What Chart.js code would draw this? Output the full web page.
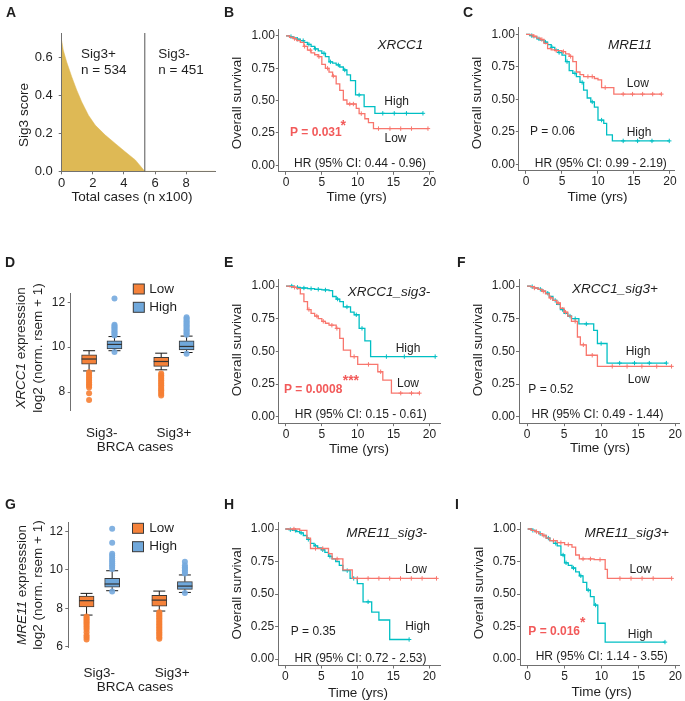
<!DOCTYPE html>
<html>
<head>
<meta charset="utf-8">
<script src="https://cdn.jsdelivr.net/npm/chart.js@4.4.1/dist/chart.umd.min.js"></script>
<style>
  body { margin: 0; background: #fff; width: 685px; height: 701px; position: relative; overflow: hidden; }
  canvas { position: absolute; }
</style>
</head>
<body>
<script>
// ---------- data ----------

// Panel A: Sig3 score of every case, sorted (x in hundreds of cases)
const sig3Groups = ["Sig3+", "Sig3-"];
const sig3Counts = [534, 451];
const sig3Cases = [0, 0.1, 0.32, 0.65, 0.97, 1.29, 1.72, 2.15, 2.8, 3.44, 4.08, 4.73, 5.34, 9.85];
const sig3Score = [0.69, 0.64, 0.577, 0.498, 0.428, 0.366, 0.296, 0.244, 0.191, 0.147, 0.103, 0.06, 0, 0];

// Kaplan-Meier axes
const timeTicks = [0, 5, 10, 15, 20];
const survTicks = [0, 0.25, 0.5, 0.75, 1];

// B: XRCC1, all cases
const xrcc1LowT = [0, 0.5, 1, 1.5, 2, 2.5, 3, 3.5, 4, 4.5, 5, 5.5, 6, 6.5, 7, 7.5, 8, 8.5, 9.8, 10.2, 11, 11.5, 12.2, 19.8];
const xrcc1LowS = [1, 0.99, 0.98, 0.965, 0.95, 0.92, 0.89, 0.87, 0.855, 0.84, 0.78, 0.75, 0.72, 0.69, 0.63, 0.58, 0.505, 0.474, 0.44, 0.40, 0.36, 0.33, 0.284, 0.284];
const xrcc1LowCens = [1.2, 2.6, 3.4, 4.6, 5.8, 6.6, 8.9, 9.4, 10.5, 12.9, 14.5, 16, 17.5, 19.8];
const xrcc1HighT = [0, 0.5, 1, 1.5, 2, 2.5, 3, 3.5, 4, 4.5, 5, 5.5, 6, 6.5, 7, 7.5, 8, 8.5, 9, 9.7, 10.9, 12.4, 19.1];
const xrcc1HighS = [1, 0.995, 0.985, 0.975, 0.964, 0.95, 0.935, 0.92, 0.9, 0.885, 0.866, 0.84, 0.8, 0.79, 0.776, 0.76, 0.737, 0.7, 0.655, 0.544, 0.454, 0.402, 0.402];
const xrcc1HighCens = [0.7, 1.6, 2.4, 3.2, 4.1, 5.3, 6.2, 7.3, 8.2, 10.2, 13.5, 15.1, 16.8, 19.1];

// C: MRE11, all cases
const mre11LowT = [0, 0.5, 1, 1.5, 2, 2.5, 3, 3.5, 4, 5, 5.5, 6, 6.5, 7, 7.5, 8, 9.5, 10, 10.5, 12.2, 18.8];
const mre11LowS = [1, 0.995, 0.985, 0.97, 0.96, 0.93, 0.89, 0.88, 0.875, 0.867, 0.85, 0.83, 0.79, 0.71, 0.69, 0.675, 0.66, 0.65, 0.59, 0.54, 0.54];
const mre11LowCens = [1.1, 2.2, 4.2, 5.2, 6.2, 8.6, 9.2, 11, 13.5, 14.8, 16.2, 17.6, 18.8];
const mre11HighT = [0, 0.5, 1, 1.5, 2, 2.5, 3, 3.5, 4, 4.5, 5, 5.5, 6, 6.5, 7, 7.5, 8, 8.5, 9, 9.5, 10, 10.8, 11.2, 12, 19.9];
const mre11HighS = [1, 0.99, 0.98, 0.965, 0.955, 0.94, 0.92, 0.9, 0.88, 0.86, 0.84, 0.79, 0.72, 0.7, 0.675, 0.63, 0.57, 0.51, 0.48, 0.44, 0.34, 0.315, 0.226, 0.18, 0.18];
const mre11HighCens = [0.8, 1.8, 2.7, 3.6, 4.6, 5.7, 6.8, 7.8, 9.2, 10.5, 13.5, 15.5, 17.5, 19.9];

// E: XRCC1, Sig3- cases
const xrcc1NegLowT = [0, 0.5, 1, 1.5, 2, 2.5, 3, 3.5, 4, 4.5, 5, 5.5, 6, 7, 7.5, 8, 9, 10, 12.8, 13.5, 14.7, 18.6];
const xrcc1NegLowS = [1, 0.995, 0.99, 0.98, 0.94, 0.88, 0.82, 0.79, 0.77, 0.75, 0.73, 0.715, 0.7, 0.676, 0.6, 0.51, 0.46, 0.4, 0.344, 0.28, 0.18, 0.18];
const xrcc1NegLowCens = [1.2, 3.2, 4.3, 5.2, 6.4, 7.1, 9.5, 11.5, 13.2, 16, 17.5, 18.6];
const xrcc1NegHighT = [0, 1, 2, 3, 4, 5, 6, 6.5, 7, 7.5, 8, 9, 9.5, 10.2, 11, 11.8, 20.8];
const xrcc1NegHighS = [1, 0.99, 0.985, 0.98, 0.975, 0.97, 0.965, 0.92, 0.9, 0.88, 0.84, 0.8, 0.78, 0.676, 0.58, 0.46, 0.46];
const xrcc1NegHighCens = [0.8, 1.6, 2.5, 3.5, 4.5, 5.5, 7.2, 8.5, 9.8, 10.6, 14, 16.5, 20.8];

// F: XRCC1, Sig3+ cases
const xrcc1PosLowT = [0, 0.5, 1, 1.5, 2, 2.5, 3, 3.5, 4, 4.5, 5, 5.5, 6, 6.8, 7.2, 8, 9.5, 19.5];
const xrcc1PosLowS = [1, 0.995, 0.985, 0.975, 0.96, 0.94, 0.91, 0.89, 0.87, 0.83, 0.8, 0.77, 0.73, 0.61, 0.55, 0.47, 0.385, 0.385];
const xrcc1PosLowCens = [1, 2.2, 3.2, 4.2, 5.2, 6.5, 7.6, 8.8, 11.5, 13.5, 15.5, 17.5, 19.5];
const xrcc1PosHighT = [0, 0.5, 1, 1.5, 2, 2.5, 3, 3.5, 4, 4.5, 5, 5.5, 6, 7, 9, 9.5, 10.8, 18.8];
const xrcc1PosHighS = [1, 0.995, 0.985, 0.975, 0.96, 0.945, 0.92, 0.89, 0.86, 0.82, 0.79, 0.77, 0.75, 0.71, 0.66, 0.56, 0.41, 0.41];
const xrcc1PosHighCens = [0.7, 1.8, 2.8, 3.8, 4.8, 5.8, 6.5, 8, 10, 12.5, 14.5, 16.5, 18.8];

// H: MRE11, Sig3- cases
const mre11NegLowT = [0, 2, 3, 3.5, 6, 6.5, 8, 9.3, 21];
const mre11NegLowS = [1, 0.99, 0.93, 0.85, 0.81, 0.77, 0.685, 0.62, 0.62];
const mre11NegLowCens = [1.2, 4.2, 5.2, 7.2, 10, 11.5, 13, 14.5, 16, 17.5, 19, 21];
const mre11NegHighT = [0, 0.5, 1, 1.5, 2, 2.5, 3, 3.5, 4, 4.5, 5, 5.5, 6, 6.5, 7, 7.5, 8, 9, 10, 10.8, 12, 13, 14.5, 17.2];
const mre11NegHighS = [1, 0.995, 0.99, 0.98, 0.97, 0.95, 0.92, 0.89, 0.87, 0.855, 0.84, 0.82, 0.79, 0.77, 0.75, 0.72, 0.68, 0.62, 0.58, 0.44, 0.36, 0.3, 0.15, 0.15];
const mre11NegHighCens = [0.7, 1.4, 2.2, 3.2, 4.2, 5.2, 6.2, 8.6, 9.5, 11.5, 17.2];

// I: MRE11, Sig3+ cases
const mre11PosLowT = [0, 0.5, 1, 1.5, 2, 2.5, 3, 4, 5, 6, 6.5, 7, 9, 10.5, 10.8, 19.5];
const mre11PosLowS = [1, 0.99, 0.98, 0.965, 0.95, 0.93, 0.91, 0.895, 0.88, 0.86, 0.8, 0.77, 0.765, 0.69, 0.62, 0.62];
const mre11PosLowCens = [1.2, 2.2, 3.5, 4.5, 5.5, 7.5, 8.5, 9.8, 12.5, 14, 15.5, 17, 19.5];
const mre11PosHighT = [0, 0.5, 1, 1.5, 2, 2.5, 3, 3.5, 4, 4.5, 5, 5.5, 6, 6.5, 7, 7.5, 8, 8.5, 9, 9.5, 10.5, 18.6];
const mre11PosHighS = [1, 0.99, 0.98, 0.965, 0.95, 0.93, 0.91, 0.89, 0.87, 0.8, 0.74, 0.72, 0.7, 0.67, 0.64, 0.59, 0.53, 0.48, 0.415, 0.275, 0.13, 0.13];
const mre11PosHighCens = [0.7, 1.7, 2.8, 3.8, 4.8, 5.2, 6.2, 7.2, 8.2, 9.2, 18.6];

// D and G: expression box plots, per category [lower whisker, q1, median, q3, upper whisker]
const boxCats = ["Sig3-", "Sig3+"];
const exprGroups = ["Low", "High"];
const xrcc1BoxLow = [[8.94, 9.24, 9.47, 9.66, 9.84], [8.99, 9.14, 9.36, 9.54, 9.73]];
const xrcc1BoxHigh = [[9.84, 9.92, 10.12, 10.28, 10.47], [9.76, 9.88, 10.03, 10.28, 10.49]];
const xrcc1OutLow = [[8.88, 8.8, 8.72, 8.65, 8.58, 8.5, 8.42, 8.35, 8.28, 8.2, 7.95, 7.65],
                     [8.82, 8.75, 8.68, 8.6, 8.52, 8.45, 8.38, 8.3, 8.22, 8.15, 8.08, 8.0, 7.92, 7.85]];
const xrcc1OutHigh = [[9.78, 10.52, 10.58, 10.64, 10.7, 10.76, 10.82, 10.88, 10.94, 11.0, 12.17],
                      [9.7, 10.55, 10.61, 10.67, 10.73, 10.79, 10.85, 10.91, 10.97, 11.03, 11.09, 11.15, 11.21, 11.27, 11.33]];
const mre11BoxLow = [[7.65, 8.07, 8.4, 8.64, 8.78], [7.86, 8.12, 8.43, 8.68, 8.9]];
const mre11BoxHigh = [[8.92, 9.1, 9.27, 9.56, 9.96], [8.83, 8.99, 9.16, 9.39, 9.74]];
const mre11OutLow = [[7.58, 7.5, 7.42, 7.34, 7.26, 7.18, 7.1, 7.0, 6.9, 6.75, 6.6, 6.5, 6.38],
                     [7.8, 7.72, 7.64, 7.56, 7.48, 7.4, 7.32, 7.24, 7.16, 7.08, 7.0, 6.92, 6.84, 6.76, 6.68, 6.6, 6.5, 6.42]];
const mre11OutHigh = [[8.88, 10.05, 10.15, 10.25, 10.35, 10.45, 10.55, 10.65, 10.75, 10.85, 11.42, 12.15],
                      [8.8, 9.82, 9.9, 9.98, 10.06, 10.14, 10.24, 10.43]];

// ---------- styling ----------
const FONT = "'Liberation Sans', Arial, Helvetica, sans-serif";
const INK = "#1f1f1f";
const AXIS = "#707070";
const COL_LOW = "#F8766D";
const COL_HIGH = "#00BFC4";
const P_RED = "#F25A5A";
const GOLD = "#DEB955";
const BOX_LOW = "#F5823A";
const BOX_HIGH = "#70A8DB";
const DOT_LOW = "rgba(246,128,52,0.9)";
const DOT_HIGH = "rgba(118,170,222,0.9)";
const DODGE = 0.176;

const F = (size, style) => (style ? style + " " : "") + size + "px " + FONT;
const ROT = -Math.PI / 2;

Chart.defaults.font.family = FONT;
Chart.defaults.color = INK;
Chart.defaults.animation = false;
Chart.defaults.responsive = false;
Chart.defaults.events = [];
Chart.defaults.plugins.legend.display = false;
Chart.defaults.plugins.tooltip.enabled = false;

function makeCanvas(box) {
  const c = document.createElement("canvas");
  c.width = box[2];
  c.height = box[3];
  c.style.left = box[0] + "px";
  c.style.top = box[1] + "px";
  c.style.width = box[2] + "px";
  c.style.height = box[3] + "px";
  document.body.appendChild(c);
  return c;
}

// box = canvas [left, top, w, h], area = plot [left, top, right, bottom], page pixels
function frameOpts(box, area) {
  return {
    padding: { left: 0, top: area[1] - box[1], right: box[0] + box[2] - area[2], bottom: 0 },
    yW: area[0] - box[0],
    xH: box[1] + box[3] - area[3]
  };
}

function linAxis(range, ticks, fmt, fit, o) {
  o = o || {};
  return {
    type: "linear", min: range[0], max: range[1], offset: false,
    afterBuildTicks: s => { s.ticks = ticks.map(v => ({ value: v })); },
    afterFit: fit,
    grid: { display: !o.noTicks, drawOnChartArea: false, drawTicks: true, tickLength: 3, color: AXIS, tickColor: AXIS },
    border: { display: !o.noBorder, color: AXIS, width: 1 },
    ticks: { font: { size: o.size || 12 }, color: INK, padding: o.pad == null ? 1 : o.pad,
             callback: fmt, autoSkip: false, maxRotation: 0, minRotation: 0 }
  };
}

// free text (and legend keys) placed in page coordinates
function textPlugin(box, notes) {
  return {
    id: "notes",
    afterDraw(chart) {
      const ctx = chart.ctx;
      notes.forEach(n => {
        ctx.save();
        ctx.translate(n.x - box[0], n.y - box[1]);
        if (n.key) {
          ctx.fillStyle = n.key;
          ctx.strokeStyle = "#3a3a3a";
          ctx.lineWidth = 1;
          ctx.fillRect(-5.5, -5, 11, 10);
          ctx.strokeRect(-5.5, -5, 11, 10);
          ctx.restore();
          return;
        }
        if (n.rot) ctx.rotate(n.rot);
        ctx.textBaseline = "middle";
        ctx.textAlign = "left";
        ctx.fillStyle = n.color || INK;
        const parts = n.parts || [{ t: n.t, f: n.f }];
        let w = 0;
        parts.forEach(p => { ctx.font = p.f; p.w = ctx.measureText(p.t).width; w += p.w; });
        let x0 = n.a === "left" ? 0 : -w / 2;
        parts.forEach(p => { ctx.font = p.f; ctx.fillText(p.t, x0, 0); x0 += p.w; });
        ctx.restore();
      });
    }
  };
}

function survAt(t, s, time) {
  let v = s[0];
  for (let i = 0; i < t.length; i++) if (t[i] <= time) v = s[i];
  return v;
}

function kmPanel(box, area, xRange, low, high, notes) {
  const fr = frameOpts(box, area);
  const datasets = [];
  [[low, COL_LOW], [high, COL_HIGH]].forEach(([c, col]) => {
    datasets.push({
      type: "line", data: c.t.map((t, i) => ({ x: t, y: c.s[i] })),
      borderColor: col, borderWidth: 1.3, stepped: true, pointRadius: 0, fill: false
    });
    datasets.push({
      type: "scatter", data: c.cens.map(t => ({ x: t, y: survAt(c.t, c.s, t) })),
      pointStyle: "cross", pointRadius: 2.2, borderColor: col, borderWidth: 1
    });
  });
  new Chart(makeCanvas(box), {
    type: "line",
    data: { datasets },
    options: {
      layout: { padding: fr.padding },
      scales: {
        x: linAxis(xRange, timeTicks, v => String(v), s => { s.height = fr.xH; }),
        y: linAxis([-0.05, 1.05], survTicks, v => v.toFixed(2), s => { s.width = fr.yW; })
      }
    },
    plugins: [textPlugin(box, notes)]
  });
}

function boxPanel(box, area, xRange, yRange, yTicks, lowStats, highStats, lowOut, highOut, catPad, notes) {
  const fr = frameOpts(box, area);
  const groups = [
    { stats: lowStats, out: lowOut, shift: -DODGE, fill: BOX_LOW, dot: DOT_LOW },
    { stats: highStats, out: highOut, shift: DODGE, fill: BOX_HIGH, dot: DOT_HIGH }
  ];
  const datasets = [];
  groups.forEach(g => {
    datasets.push({
      type: "scatter", order: 2,
      data: g.out.flatMap((vals, i) => vals.map(v => ({ x: i + 1 + g.shift, y: v }))),
      pointRadius: 3, pointBackgroundColor: g.dot, pointBorderWidth: 0
    });
    datasets.push({
      type: "bar", order: 1, grouped: false, barThickness: 15,
      data: g.stats.map((st, i) => ({ x: i + 1 + g.shift, y: [st[1], st[3]] })),
      backgroundColor: g.fill, borderColor: "#3a3a3a", borderWidth: 1, borderSkipped: false
    });
  });
  const boxParts = {
    id: "boxParts",
    beforeDatasetsDraw(chart) {
      const { ctx, scales: { x, y } } = chart;
      ctx.save();
      ctx.strokeStyle = "#1a1a1a";
      ctx.lineWidth = 1;
      groups.forEach(g => g.stats.forEach((st, i) => {
        const px = x.getPixelForValue(i + 1 + g.shift);
        ctx.beginPath();
        ctx.moveTo(px, y.getPixelForValue(st[0])); ctx.lineTo(px, y.getPixelForValue(st[1]));
        ctx.moveTo(px, y.getPixelForValue(st[3])); ctx.lineTo(px, y.getPixelForValue(st[4]));
        [st[0], st[4]].forEach(v => {
          const py = y.getPixelForValue(v);
          ctx.moveTo(px - 6, py); ctx.lineTo(px + 6, py);
        });
        ctx.stroke();
      }));
      ctx.restore();
    },
    afterDatasetsDraw(chart) {
      const { ctx, scales: { x, y } } = chart;
      ctx.save();
      ctx.strokeStyle = "#333";
      ctx.lineWidth = 1.2;
      groups.forEach(g => g.stats.forEach((st, i) => {
        const px = x.getPixelForValue(i + 1 + g.shift);
        const py = y.getPixelForValue(st[2]);
        ctx.beginPath();
        ctx.moveTo(px - 7.5, py); ctx.lineTo(px + 7.5, py);
        ctx.stroke();
      }));
      ctx.restore();
    }
  };
  new Chart(makeCanvas(box), {
    type: "bar",
    data: { datasets },
    options: {
      layout: { padding: fr.padding },
      scales: {
        x: linAxis(xRange, [1, 2], v => boxCats[v - 1], s => { s.height = fr.xH; },
                   { noTicks: true, noBorder: true, size: 13.5, pad: catPad }),
        y: linAxis(yRange, yTicks, v => String(v), s => { s.width = fr.yW; }, { pad: 2.5 })
      }
    },
    plugins: [boxParts, textPlugin(box, notes)]
  });
}

const LETTER = F(14, "bold");
const TITLE = F(13.5);
const GENE = F(13.5, "italic");
const LAB = F(12);
const PB = F(12, "bold");

// ---------- A ----------
(function () {
  const box = [0, 0, 220, 212];
  const area = [61.7, 33, 215, 171.3];
  const fr = frameOpts(box, area);
  const total = (sig3Counts[0] + sig3Counts[1]) / 100;
  const divider = sig3Counts[0] / 100;
  const notes = [
    { t: "A", x: 6, y: 13, f: LETTER, a: "left" },
    { t: sig3Groups[0], x: 81, y: 54.5, f: TITLE, a: "left" },
    { t: "n = " + sig3Counts[0], x: 81, y: 70, f: TITLE, a: "left" },
    { t: sig3Groups[1], x: 158.3, y: 54.5, f: TITLE, a: "left" },
    { t: "n = " + sig3Counts[1], x: 158.3, y: 70, f: TITLE, a: "left" },
    { t: "Sig3 score", x: 24, y: 115, f: TITLE, rot: ROT },
    { t: "Total cases (n x100)", x: 132, y: 197.5, f: TITLE }
  ];
  new Chart(makeCanvas(box), {
    type: "line",
    data: {
      datasets: [{
        data: sig3Cases.map((x, i) => ({ x, y: sig3Score[i] })),
        fill: "origin", backgroundColor: GOLD, borderColor: GOLD, borderWidth: 0.5,
        pointRadius: 0, tension: 0
      }]
    },
    options: {
      layout: { padding: fr.padding },
      scales: {
        x: linAxis([0, total], [0, 2, 4, 6, 8], v => String(v), s => { s.height = fr.xH; }, { size: 13, pad: 1.5 }),
        y: linAxis([0, 0.73], [0, 0.2, 0.4, 0.6], v => v.toFixed(1), s => { s.width = fr.yW; }, { size: 13, pad: 6 })
      }
    },
    plugins: [{
      id: "divider",
      afterDatasetsDraw(chart) {
        const { ctx, scales: { x }, chartArea: ca } = chart;
        const px = x.getPixelForValue(divider);
        ctx.save();
        ctx.strokeStyle = "#555";
        ctx.lineWidth = 1;
        ctx.beginPath();
        ctx.moveTo(px, ca.top); ctx.lineTo(px, ca.bottom);
        ctx.stroke();
        ctx.restore();
      }
    }, textPlugin(box, notes)]
  });
})();

// ---------- B ----------
kmPanel([220, 0, 230, 212], [278.8, 29.5, 433.7, 171.8], [-1, 20.6],
  { t: xrcc1LowT, s: xrcc1LowS, cens: xrcc1LowCens },
  { t: xrcc1HighT, s: xrcc1HighS, cens: xrcc1HighCens },
  [
    { t: "B", x: 224, y: 13, f: LETTER, a: "left" },
    { t: "XRCC1", x: 400.5, y: 45, f: GENE },
    { t: "High", x: 396.7, y: 101.7, f: LAB },
    { t: "Low", x: 395.5, y: 138.3, f: LAB },
    { t: "P = 0.031", x: 290, y: 133, f: PB, a: "left", color: P_RED },
    { t: "*", x: 340.5, y: 126, f: F(14, "bold"), a: "left", color: P_RED },
    { t: "HR (95% CI: 0.44 - 0.96)", x: 360, y: 163.3, f: LAB },
    { t: "Overall survival", x: 237.7, y: 103, f: TITLE, rot: ROT },
    { t: "Time (yrs)", x: 356.7, y: 197.5, f: TITLE }
  ]);

// ---------- C ----------
kmPanel([450, 0, 235, 212], [518.8, 27.8, 674.3, 170.8], [-1, 20.6],
  { t: mre11LowT, s: mre11LowS, cens: mre11LowCens },
  { t: mre11HighT, s: mre11HighS, cens: mre11HighCens },
  [
    { t: "C", x: 463, y: 13, f: LETTER, a: "left" },
    { t: "MRE11", x: 630, y: 45, f: GENE },
    { t: "Low", x: 637.8, y: 83.7, f: LAB },
    { t: "High", x: 639, y: 132.7, f: LAB },
    { t: "P = 0.06", x: 530, y: 131.3, f: LAB, a: "left" },
    { t: "HR (95% CI: 0.99 - 2.19)", x: 600.8, y: 163.3, f: LAB },
    { t: "Overall survival", x: 477.5, y: 103, f: TITLE, rot: ROT },
    { t: "Time (yrs)", x: 597.5, y: 197.5, f: TITLE }
  ]);

// ---------- D ----------
boxPanel([0, 255, 220, 205], [70.7, 293, 215, 410], [0.569, 2.57], [7.2, 12.41], [8, 10, 12],
  xrcc1BoxLow, xrcc1BoxHigh, xrcc1OutLow, xrcc1OutHigh, 11.9,
  [
    { t: "D", x: 5, y: 263, f: LETTER, a: "left" },
    { key: BOX_LOW, x: 138.8, y: 289 },
    { key: BOX_HIGH, x: 138.8, y: 307.3 },
    { t: exprGroups[0], x: 149.3, y: 289, f: TITLE, a: "left" },
    { t: exprGroups[1], x: 149.3, y: 307.3, f: TITLE, a: "left" },
    { parts: [{ t: "XRCC1", f: GENE }, { t: " expresssion", f: TITLE }], x: 21.5, y: 348, rot: ROT },
    { t: "log2 (norm. rsem + 1)", x: 38.5, y: 348, f: TITLE, rot: ROT },
    { t: "BRCA cases", x: 135, y: 447, f: TITLE }
  ]);

// ---------- E ----------
kmPanel([220, 255, 230, 205], [278.8, 279.5, 440.2, 423.2], [-1, 21.5],
  { t: xrcc1NegLowT, s: xrcc1NegLowS, cens: xrcc1NegLowCens },
  { t: xrcc1NegHighT, s: xrcc1NegHighS, cens: xrcc1NegHighCens },
  [
    { t: "E", x: 224, y: 263, f: LETTER, a: "left" },
    { t: "XRCC1_sig3-", x: 389, y: 292.5, f: GENE },
    { t: "High", x: 408, y: 348.3, f: LAB },
    { t: "Low", x: 408, y: 384, f: LAB },
    { t: "P = 0.0008", x: 284, y: 389.5, f: PB, a: "left", color: P_RED },
    { t: "***", x: 342.7, y: 381, f: F(14, "bold"), a: "left", color: P_RED },
    { t: "HR (95% CI: 0.15 - 0.61)", x: 360.8, y: 415, f: LAB },
    { t: "Overall survival", x: 237.5, y: 350, f: TITLE, rot: ROT },
    { t: "Time (yrs)", x: 359, y: 449, f: TITLE }
  ]);

// ---------- F ----------
kmPanel([450, 255, 235, 205], [519, 279.5, 679.7, 423.2], [-1.08, 20.6],
  { t: xrcc1PosLowT, s: xrcc1PosLowS, cens: xrcc1PosLowCens },
  { t: xrcc1PosHighT, s: xrcc1PosHighS, cens: xrcc1PosHighCens },
  [
    { t: "F", x: 457, y: 263, f: LETTER, a: "left" },
    { t: "XRCC1_sig3+", x: 615, y: 289, f: GENE },
    { t: "High", x: 638, y: 352, f: LAB },
    { t: "Low", x: 638.8, y: 379.7, f: LAB },
    { t: "P = 0.52", x: 528.3, y: 389.3, f: LAB, a: "left" },
    { t: "HR (95% CI: 0.49 - 1.44)", x: 597.5, y: 414.3, f: LAB },
    { t: "Overall survival", x: 478, y: 350, f: TITLE, rot: ROT },
    { t: "Time (yrs)", x: 600, y: 448, f: TITLE }
  ]);

// ---------- G ----------
boxPanel([0, 495, 220, 206], [68.3, 522, 215, 647.7], [0.573, 2.59], [5.95, 12.5], [6, 8, 10, 12],
  mre11BoxLow, mre11BoxHigh, mre11OutLow, mre11OutHigh, 14.9,
  [
    { t: "G", x: 5, y: 505, f: LETTER, a: "left" },
    { key: BOX_LOW, x: 138, y: 528.3 },
    { key: BOX_HIGH, x: 138, y: 546.7 },
    { t: exprGroups[0], x: 149.3, y: 528.3, f: TITLE, a: "left" },
    { t: exprGroups[1], x: 149.3, y: 546.7, f: TITLE, a: "left" },
    { parts: [{ t: "MRE11", f: GENE }, { t: " expresssion", f: TITLE }], x: 22.5, y: 585, rot: ROT },
    { t: "log2 (norm. rsem + 1)", x: 38, y: 585, f: TITLE, rot: ROT },
    { t: "BRCA cases", x: 135, y: 687, f: TITLE }
  ]);

// ---------- H ----------
kmPanel([220, 495, 230, 206], [278.1, 522.5, 440.1, 665.5], [-1, 21.5],
  { t: mre11NegLowT, s: mre11NegLowS, cens: mre11NegLowCens },
  { t: mre11NegHighT, s: mre11NegHighS, cens: mre11NegHighCens },
  [
    { t: "H", x: 224, y: 505, f: LETTER, a: "left" },
    { t: "MRE11_sig3-", x: 386.7, y: 533.3, f: GENE },
    { t: "Low", x: 416, y: 569.3, f: LAB },
    { t: "High", x: 417.5, y: 626.7, f: LAB },
    { t: "P = 0.35", x: 290.7, y: 631.7, f: LAB, a: "left" },
    { t: "HR (95% CI: 0.72 - 2.53)", x: 360.5, y: 658.3, f: LAB },
    { t: "Overall survival", x: 237.5, y: 593.3, f: TITLE, rot: ROT },
    { t: "Time (yrs)", x: 358, y: 693, f: TITLE }
  ]);

// ---------- I ----------
kmPanel([450, 495, 235, 206], [520, 522.5, 679, 665.5], [-1.04, 20.5],
  { t: mre11PosLowT, s: mre11PosLowS, cens: mre11PosLowCens },
  { t: mre11PosHighT, s: mre11PosHighS, cens: mre11PosHighCens },
  [
    { t: "I", x: 455, y: 505, f: LETTER, a: "left" },
    { t: "MRE11_sig3+", x: 626.7, y: 533.3, f: GENE },
    { t: "Low", x: 640.5, y: 570, f: LAB },
    { t: "High", x: 640.2, y: 634.3, f: LAB },
    { t: "P = 0.016", x: 528.3, y: 631.3, f: PB, a: "left", color: P_RED },
    { t: "*", x: 580, y: 623.5, f: F(14, "bold"), a: "left", color: P_RED },
    { t: "HR (95% CI: 1.14 - 3.55)", x: 601.7, y: 656.7, f: LAB },
    { t: "Overall survival", x: 479, y: 593, f: TITLE, rot: ROT },
    { t: "Time (yrs)", x: 601.7, y: 692.5, f: TITLE }
  ]);
</script>
</body>
</html>
